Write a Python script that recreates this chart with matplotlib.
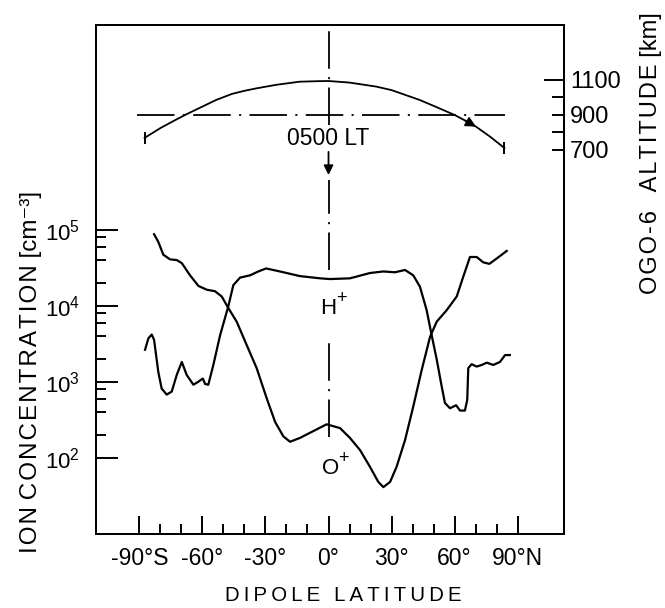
import matplotlib
matplotlib.use("Agg")
import matplotlib.pyplot as plt
from matplotlib.ticker import FixedLocator

plt.rcParams["font.family"] = ["Liberation Sans", "DejaVu Sans"]
plt.rcParams["mathtext.fontset"] = "custom"
plt.rcParams["mathtext.rm"] = "Liberation Sans"
plt.rcParams["mathtext.it"] = "Liberation Sans"
plt.rcParams["mathtext.bf"] = "Liberation Sans:bold"
plt.rcParams["mathtext.default"] = "rm"
plt.rcParams["lines.scale_dashes"] = False

# ---- satellite pass: altitude along the orbit (km) vs dipole latitude ----
arc_lat = [-87.5, -80, -74, -67.6, -60, -53.4, -46, -40, -34.3, -25, -13.8,
           -5, 0, 10, 22.7, 30, 43.3, 50, 60.0, 65, 70.2, 77, 83.7]
arc_alt = [769, 825, 864, 904, 948, 986, 1020, 1038, 1052, 1072, 1090,
           1093, 1094, 1085, 1062, 1042, 986, 952, 900, 868, 833, 775, 711]
ref_alt = 900                 # reference altitude line
ref_span = [-91, 84]          # latitude extent of that line
lt_lat = 0                    # local-time meridian marker

# ---- H+ concentration (cm^-3) ----
h_lat = [-87.3, -85.7, -84.1, -83.0, -81.0, -79.4, -77.0, -74.6, -72.2, -69.8,
         -67.5, -64.3, -61.9, -59.8, -58.7, -57.2, -54.8, -51.6, -47.7, -45.3,
         -42.1, -37.3, -33.4, -29.7, -23.1, -13.6, -4.0, 0.7, 10.2, 19.7,
         26.1, 31.6, 36.4, 40.3, 43.5, 46.7, 49.1, 51.5, 53.9, 55.4,
         57.8, 60.7, 62.6, 64.9, 66.0, 66.5, 68.1, 70.5, 72.9, 75.3,
         78.4, 81.6, 84.0, 86.3]
h_conc = [2630, 3720, 4170, 3550, 1350, 813, 676, 741, 1230, 1820,
          1230, 912, 1000, 1100, 933, 912, 1660, 4070, 9770, 18600,
          23400, 25100, 28200, 30900, 28200, 24500, 22900, 22400, 22900, 26900,
          28200, 27500, 29500, 25100, 17800, 8710, 4070, 1950, 851, 525,
          447, 490, 417, 417, 575, 1510, 1700, 1580, 1660, 1780,
          1660, 1820, 2240, 2240]

# ---- O+ concentration (cm^-3) ----
o_lat = [-83.0, -81.0, -78.6, -75.4, -72.2, -69.8, -65.9, -61.9, -57.9, -54.0,
         -50.8, -47.7, -43.7, -38.9, -34.2, -29.4, -25.4, -21.5, -18.3, -13.6,
         -7.2, -0.9, 5.5, 10.2, 15.0, 19.7, 23.7, 26.1, 29.3, 32.4,
         36.4, 40.3, 44.3, 48.3, 51.5, 56.2, 61.0, 64.1, 67.3, 70.5,
         73.6, 76.5, 80.0, 84.8]
o_conc = [87100, 69200, 46800, 40700, 39800, 36300, 25100, 18200, 16200, 15500,
          13200, 9330, 6170, 3020, 1510, 603, 295, 191, 162, 182,
          224, 275, 245, 182, 126, 76, 48, 41, 48, 76,
          170, 468, 1410, 3890, 6170, 8710, 13200, 24000, 43700, 43700,
          37200, 35500, 41700, 52500]

lat_ticks = [-90, -60, -30, 0, 30, 60, 90]
lat_labels = ["-90°S", "-60°", "-30°", "0°", "30°", "60°", "90°N"]
lat_minor = [v for v in range(-80, 90, 10) if v % 30 != 0]
conc_ticks = [1e2, 1e3, 1e4, 1e5]
conc_labels = [r"$\mathdefault{10^{2}}$", r"$\mathdefault{10^{3}}$",
               r"$\mathdefault{10^{4}}$", r"$\mathdefault{10^{5}}$"]
conc_minor = [m * 10 ** e for e in (2, 3, 4) for m in (2, 4, 6, 8)]
alt_ticks = [700, 900, 1100]
alt_labels = ["700", "900", "1100"]
alt_minor = [800, 1000]

DASHDOT = (0, (27, 6, 1.5, 6))
INK = "black"


def spaced(s, sep):
    return sep.join(s)


def ion_label(axis, x, y, name):
    """Ion symbol with a large raised plus sign."""
    axis.text(x, y, name, ha="center", va="center", fontsize=16)
    axis.annotate("+", xy=(x, y), xytext=(5.5, 7), textcoords="offset points",
                  ha="left", va="center", fontsize=13)


fig = plt.figure(figsize=(6.65, 6.08), dpi=100)
ax = fig.add_axes([0.1451, 0.1217, 0.7035, 0.8372])
ax.set_yscale("log")
ax.set_xlim(-110.4, 112.2)
ax.set_ylim(10 ** 0.996, 10 ** 7.693)

ax.plot(h_lat, h_conc, color=INK, lw=1.6, solid_joinstyle="round")
ax.plot(o_lat, o_conc, color=INK, lw=1.6, solid_joinstyle="round")

ax.set_xticks(lat_ticks, lat_labels)
ax.xaxis.set_minor_locator(FixedLocator(lat_minor))
ax.set_yticks(conc_ticks, conc_labels)
ax.yaxis.set_minor_locator(FixedLocator(conc_minor))
ax.yaxis.set_minor_formatter(plt.NullFormatter())

ax.tick_params(axis="both", which="both", direction="in", color=INK, width=1.4)
ax.tick_params(axis="x", which="major", length=13, pad=9, labelsize=16.5)
ax.tick_params(axis="x", which="minor", length=7)
ax.tick_params(axis="y", which="major", length=15.5, pad=12, labelsize=16,
               left=True, right=True)
ax.tick_params(axis="y", which="minor", length=7.5, left=True, right=True)
for sp in ax.spines.values():
    sp.set_linewidth(1.4)

# meridian of the local-time cut, interrupted around its labels
for y0, y1 in [(0.8035, 1.0), (0.5187, 0.6955), (0.1906, 0.381)]:
    ax.axvline(lt_lat, ymin=y0, ymax=y1, color=INK, lw=1.3, linestyle=DASHDOT)

ion_label(ax, lt_lat, 9300, "H")
ion_label(ax, lt_lat + 1.0, 72, "O")

# altitude axis on the right
ax2 = ax.twinx()
ax2.set_ylim(-1494, 1414)
ax2.set_yticks(alt_ticks, alt_labels)
ax2.yaxis.set_minor_locator(FixedLocator(alt_minor))
ax2.tick_params(axis="y", which="both", direction="in", left=False, right=True,
                labelleft=False, labelright=True, width=1.4, color=INK)
ax2.tick_params(axis="y", which="major", length=8.5, pad=4, labelsize=17)
ax2.tick_params(axis="y", which="minor", length=8.5)
ax2.yaxis.get_major_ticks()[alt_ticks.index(1100)].tick2line.set_markersize(14.5)
for sp in ax2.spines.values():
    sp.set_linewidth(1.4)

ax2.plot(arc_lat, arc_alt, color=INK, lw=1.3)
ax2.plot([arc_lat[0], arc_lat[-1]], [arc_alt[0], arc_alt[-1]], ls="none",
         marker="|", ms=8, mew=1.4, color=INK)
k = arc_lat.index(70.2)
ax2.annotate("", xy=(arc_lat[k], arc_alt[k]), xytext=(arc_lat[k - 1], arc_alt[k - 1]),
             arrowprops=dict(arrowstyle="-|>", lw=1.3, color=INK,
                             mutation_scale=15, shrinkA=0, shrinkB=0))
ax2.plot(ref_span, [ref_alt, ref_alt], color=INK, lw=1.3, linestyle=DASHDOT)

ax2.text(lt_lat, 766, "0500 LT", ha="center", va="center", fontsize=16.5)
ax2.annotate("", xy=(lt_lat, 557), xytext=(lt_lat, 689),
             arrowprops=dict(arrowstyle="-|>", lw=1.3, color=INK,
                             mutation_scale=14, shrinkA=0, shrinkB=0))

# axis titles
fig.text(343 / 665, 1 - 595.5 / 608, spaced("DIPOLE", "\u2009") + "\u2009 \u2009"
         + spaced("LATITUDE", "\u2009"), ha="center", va="center", fontsize=14.7)
fig.text(31 / 665, 1 - 372 / 608,
         spaced("ION", "\u200a") + " " + spaced("CONCENTRATION", "\u200a") + " [cm⁻³]",
         rotation=90, ha="center", va="center", fontsize=17.5)
fig.text(651 / 665, 1 - 153 / 608,
         spaced("OGO-6", "\u200a") + "   " + spaced("ALTITUDE", "\u200a") + " [km]",
         rotation=90, ha="center", va="center", fontsize=17)

fig.savefig("out.png", dpi=100)
